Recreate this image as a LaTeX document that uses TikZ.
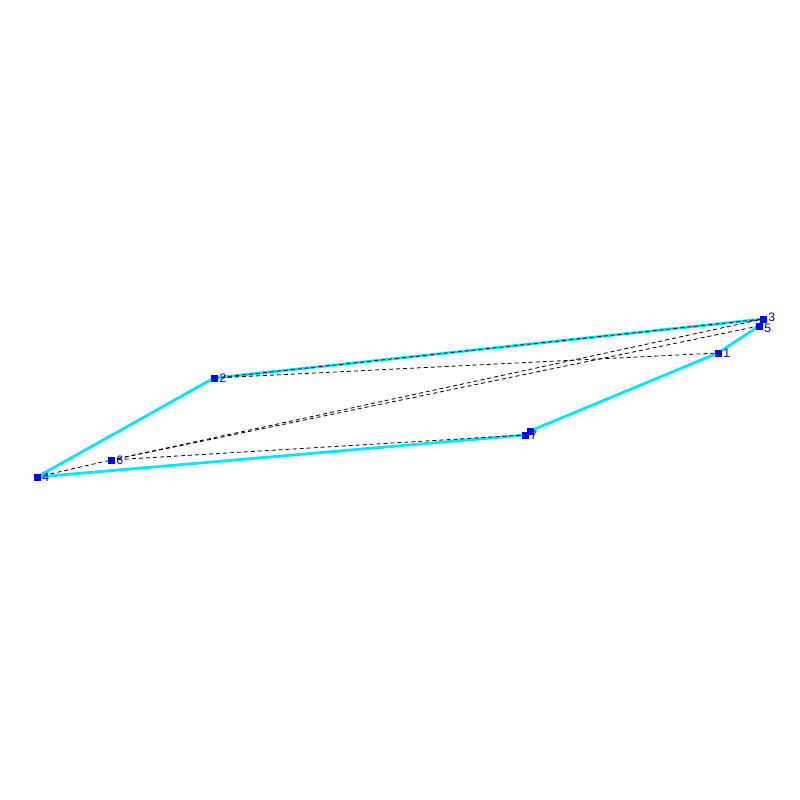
\documentclass[tikz,border=0pt]{standalone}
\usepackage{fontspec}
\setmainfont{Liberation Sans}
\begin{document}
\begin{tikzpicture}[x=0.03cm,y=-0.03cm,
  edgecyan/.style={draw={rgb,255:red,0;green,230;blue,255},line width=2.4pt,line cap=round},
  edgedash/.style={draw=black,line width=0.7pt,dash pattern=on 1.2mm off 0.9mm},
  pt/.style={fill={rgb,255:red,0;green,0;blue,255},minimum size=2.1mm,inner sep=0pt,outer sep=0pt},
  lbl/.style={text={rgb,255:red,0;green,0;blue,210},font=\fontsize{10.5}{10.5}\selectfont,inner sep=0pt,anchor=west}]
\useasboundingbox (0,0) rectangle (800,800);
\coordinate (p1) at (718,353);
\coordinate (p2) at (214,378);
\coordinate (p3) at (763,319);
\coordinate (p4) at (37,477);
\coordinate (p5) at (759,326);
\coordinate (p6) at (111,460);
\coordinate (p7) at (525,435);
\coordinate (p8) at (530,431);
% cyan outline
\draw[edgecyan] (p4) -- (p2) -- (p3) -- (p5) -- (p1) -- (p8);
\draw[edgecyan] (p7) -- (p4);
% dashed connectors
\draw[edgedash] (p2) -- (p3);
\draw[edgedash] (p2) -- (p1);
\draw[edgedash] (p6) -- (p3);
\draw[edgedash] (p6) -- (p5);
\draw[edgedash] (p4) -- (p6);
\draw[edgedash] (p6) -- (p7);
% points and labels
\foreach \i in {1,...,7}{
  \node[pt] (n\i) at (p\i) {};
}
\foreach \i in {1,2,4,6,7}{
  \node[lbl] (l\i) at ([xshift=0.5mm]n\i.east) {\i};
}
\node[lbl] (l3) at ([xshift=0.5mm,yshift=0.5mm]n3.east) {3};
\node[lbl] (l5) at ([xshift=0.5mm,yshift=-0.6mm]n5.east) {5};
\node[pt] (n8) at (p8) {};
\end{tikzpicture}
\end{document}
